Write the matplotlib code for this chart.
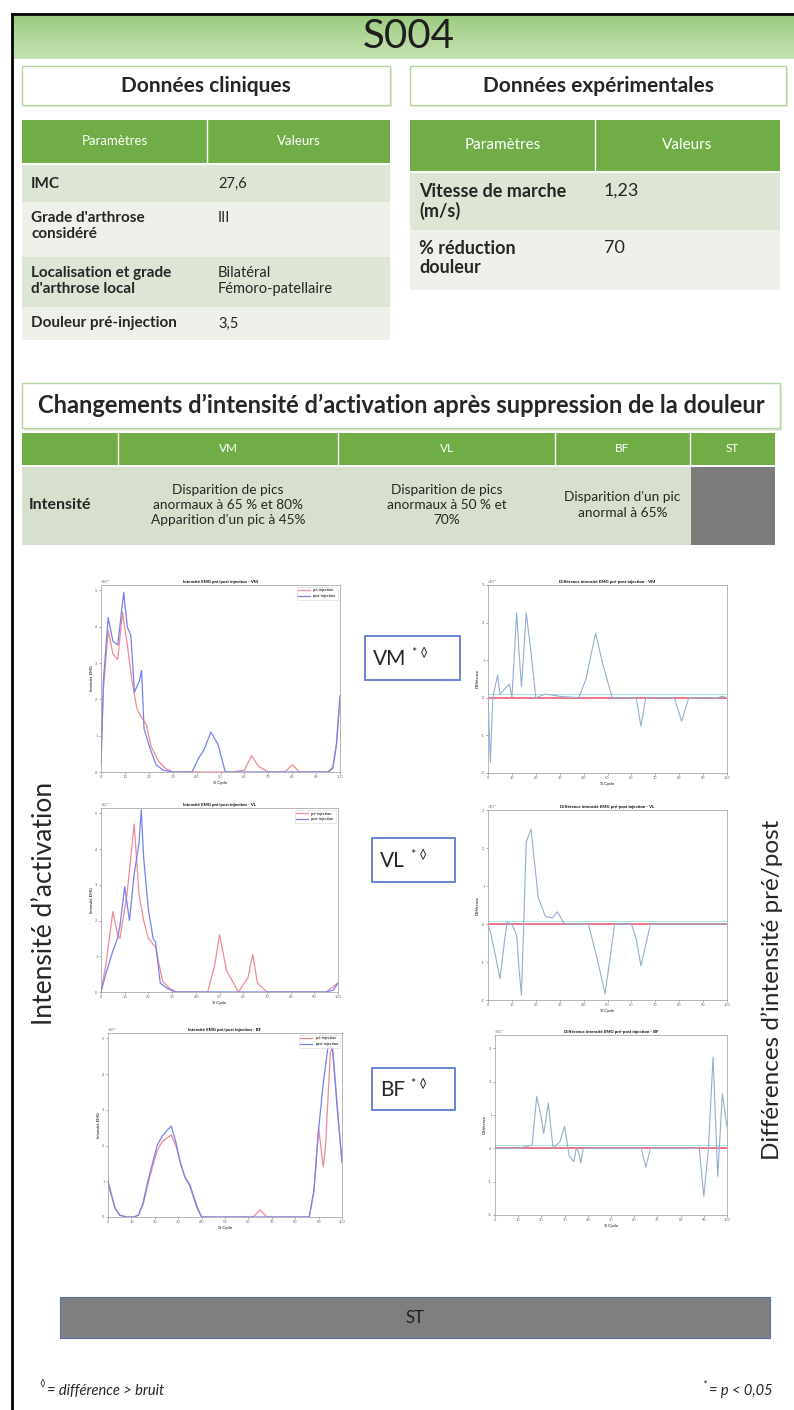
import matplotlib
matplotlib.use("Agg")
import matplotlib.pyplot as plt
from matplotlib.patches import Rectangle
from matplotlib.colors import LinearSegmentedColormap
import numpy as np

plt.rcParams['font.family'] = ['Lato', 'DejaVu Sans']

# ---------------- data ----------------
subject = "S004"
section_titles = ["Données cliniques", "Données expérimentales"]
table_headers = ["Paramètres", "Valeurs"]
clin_params = ["IMC", "Grade d'arthrose\nconsidéré", "Localisation et grade\nd'arthrose local", "Douleur pré-injection"]
clin_values = ["27,6", "III", "Bilatéral\nFémoro-patellaire", "3,5"]
exp_params = ["Vitesse de marche\n(m/s)", "% réduction\ndouleur"]
exp_values = ["1,23", "70"]
change_title = "Changements d’intensité d’activation après suppression de la douleur"
muscles = ["VM", "VL", "BF", "ST"]
row_label = "Intensité"
intensity_notes = ["Disparition de pics\nanormaux à 65 % et 80%\nApparition d'un pic à 45%",
                   "Disparition de pics\nanormaux à 50 % et\n70%",
                   "Disparition d'un pic\nanormal à 65%",
                   ""]
cycle_ticks = [0, 10, 20, 30, 40, 50, 60, 70, 80, 90, 100]
legend_labels = ["pré-injection", "post-injection"]
left_ylabel = "Intensité d’activation"
right_ylabel = "Différences d’intensité pré/post"
st_label = "ST"
foot_left = "= différence > bruit"
foot_right = "= p < 0,05"

# VM intensity (pre = red, post = blue)
vm_pre_x = [0, 1, 3, 5, 7, 9, 11, 13, 15, 17, 19, 21, 24, 27, 30, 40, 55, 60, 63, 66, 70, 77, 80, 83, 90, 95, 97, 98.5, 100]
vm_pre_y = [0.05, 0.45, 0.78, 0.65, 0.62, 0.88, 0.70, 0.50, 0.35, 0.30, 0.26, 0.14, 0.06, 0.02, 0.0, 0.0, 0.0, 0.01, 0.09, 0.03, 0.0, 0.0, 0.04, 0.0, 0.0, 0.0, 0.03, 0.15, 0.40]
vm_post_x = [0, 1, 3, 5, 7, 9.5, 11, 12.5, 14, 16, 17, 18, 20, 23, 26, 30, 38, 41, 43, 46, 49, 52, 56, 66, 80, 95, 97, 98.5, 100]
vm_post_y = [0.05, 0.50, 0.85, 0.72, 0.70, 0.99, 0.80, 0.75, 0.44, 0.50, 0.56, 0.24, 0.15, 0.04, 0.01, 0.0, 0.0, 0.08, 0.12, 0.22, 0.15, 0.0, 0.0, 0.0, 0.0, 0.0, 0.02, 0.15, 0.42]

# VL intensity
vl_pre_x = [0, 2, 4, 5, 7, 8, 11, 14, 16, 18, 20, 23, 26, 29, 32, 45, 48, 50, 53, 58, 62, 64, 66, 70, 85, 95, 100]
vl_pre_y = [0.0, 0.15, 0.35, 0.45, 0.32, 0.30, 0.55, 0.94, 0.55, 0.40, 0.30, 0.25, 0.06, 0.02, 0.0, 0.0, 0.15, 0.32, 0.12, 0.0, 0.08, 0.21, 0.05, 0.0, 0.0, 0.0, 0.05]
vl_post_x = [0, 2, 5, 7, 8, 10, 12, 14, 16, 17, 18, 20, 22, 23, 25, 28, 31, 40, 60, 80, 95, 98, 100]
vl_post_y = [0.0, 0.10, 0.23, 0.30, 0.37, 0.59, 0.40, 0.66, 0.83, 1.02, 0.75, 0.46, 0.30, 0.28, 0.05, 0.02, 0.0, 0.0, 0.0, 0.0, 0.0, 0.01, 0.05]

# BF intensity
bf_pre_x = [0, 1, 3, 5, 8, 11, 13, 15, 17, 19, 21, 23, 25, 27, 29, 31, 33, 35, 38, 40, 55, 62, 65, 68, 75, 86, 88, 90, 92, 93, 95, 96, 98, 100]
bf_pre_y = [0.18, 0.14, 0.05, 0.01, 0.0, 0.0, 0.01, 0.07, 0.18, 0.28, 0.37, 0.42, 0.44, 0.46, 0.40, 0.30, 0.22, 0.17, 0.05, 0.0, 0.0, 0.0, 0.04, 0.0, 0.0, 0.0, 0.14, 0.50, 0.28, 0.40, 0.92, 0.95, 0.62, 0.30]
bf_post_x = [0, 1, 3, 5, 8, 11, 13, 15, 17, 19, 21, 23, 25, 27, 29, 31, 33, 35, 38, 40, 50, 60, 70, 80, 86, 88, 90, 92, 94, 95, 96, 98, 100]
bf_post_y = [0.20, 0.15, 0.05, 0.01, 0.0, 0.0, 0.01, 0.08, 0.20, 0.30, 0.40, 0.45, 0.48, 0.51, 0.42, 0.30, 0.22, 0.18, 0.06, 0.0, 0.0, 0.0, 0.0, 0.0, 0.0, 0.15, 0.49, 0.75, 0.95, 0.96, 0.93, 0.60, 0.31]

# Pre/post differences
vm_diff_x = [0, 1, 2, 4, 5, 7, 9, 10, 12, 13, 14, 16, 18, 20, 24, 30, 38, 41, 45, 48, 52, 56, 62, 64, 66, 78, 81, 84, 90, 96, 98, 100]
vm_diff_y = [0, -0.86, 0.0, 0.30, 0.05, 0.12, 0.18, 0.0, 1.13, 0.6, 0.15, 1.13, 0.6, 0.0, 0.05, 0.02, 0.0, 0.25, 0.86, 0.45, 0.0, 0.0, 0.0, -0.38, 0.0, 0.0, -0.31, 0.0, 0.0, 0.0, 0.02, 0.0]
vl_diff_x = [0, 1, 3, 5, 7, 8, 10, 12, 13, 14, 16, 18, 21, 24, 27, 29, 32, 42, 46, 49, 53, 60, 62, 64, 68, 80, 100]
vl_diff_y = [0, -0.1, -0.4, -0.72, -0.2, 0.02, 0.0, -0.15, -0.6, -0.94, 1.08, 1.25, 0.35, 0.10, 0.08, 0.16, 0.0, 0.0, -0.5, -0.92, 0.0, 0.0, -0.2, -0.55, 0.0, 0.0, 0.0]
bf_diff_x = [0, 10, 16, 18, 20, 21, 23, 25, 28, 30, 32, 34, 35, 36, 37, 38, 50, 63, 65, 67, 86, 88, 90, 92, 94, 96, 98, 100]
bf_diff_y = [0, 0, 0.05, 0.78, 0.45, 0.22, 0.68, 0.0, 0.1, 0.33, -0.12, -0.2, 0.0, -0.05, -0.22, 0.0, 0.0, 0.0, -0.28, 0.0, 0.0, 0.02, -0.72, 0.0, 1.37, -0.42, 0.82, 0.32]
noise_levels = [0.05, 0.04, 0.05]

# ---------------- layout helpers ----------------
W, H = 794, 1410
fig = plt.figure(figsize=(W / 100, H / 100), dpi=100)
bg = fig.add_axes([0, 0, 1, 1])
bg.set_xlim(0, W)
bg.set_ylim(H, 0)
bg.axis('off')
renderer = fig.canvas.get_renderer()

GREEN_H = '#70ad47'
ROW_D = '#dde5d5'
ROW_L = '#eef1ea'
TXT = '#262626'


def px_axes(x0, y0, x1, y1):
    return fig.add_axes([x0 / W, 1 - y1 / H, (x1 - x0) / W, (y1 - y0) / H])


def rect(x0, y0, x1, y1, fc, ec='none', lw=0, z=1):
    bg.add_patch(Rectangle((x0, y0), x1 - x0, y1 - y0, facecolor=fc, edgecolor=ec, linewidth=lw, zorder=z))


def text_width(t):
    return t.get_window_extent(renderer=renderer).width


# frame
bg.plot([12, 12], [14, H], color='black', lw=2, zorder=5)
bg.plot([12, W], [14, 14], color='black', lw=2, zorder=5)

# title band with vertical gradient
grad = np.linspace(0, 1, 50).reshape(-1, 1)
cm = LinearSegmentedColormap.from_list('g', ['#9ccb80', '#b3d89b', '#c6e2b3'])
bg.imshow(grad, cmap=cm, extent=(14, W, 59, 16), aspect='auto', zorder=1)
bg.text(409, 37, subject, fontsize=29, ha='center', va='center', color='#1e1e1e', zorder=3)

# section title boxes
for (x0, x1), t in zip([(22, 390), (410, 786)], section_titles):
    rect(x0 + 2, 68, x1 + 2, 107, '#e6ecdf', z=1)
    rect(x0, 66, x1, 105, 'white', ec='#b5d69f', lw=1.0, z=2)
    bg.text((x0 + x1) / 2, 86, t, fontsize=15, fontweight='bold', ha='center', va='center', color=TXT, zorder=3)

# left clinical table
L0, LS, L1 = 22, 207, 390
rect(L0, 120, L1, 163, GREEN_H, z=2)
bg.plot([LS, LS], [120, 163], color='white', lw=1, zorder=3)
bg.text((L0 + LS) / 2, 141, table_headers[0], fontsize=9.5, color='white', ha='center', va='center', zorder=4)
bg.text((LS + L1) / 2, 141, table_headers[1], fontsize=9.5, color='white', ha='center', va='center', zorder=4)
left_rows = [(165, 202), (202, 257), (257, 307), (307, 340)]
for i, ((y0, y1), p, v) in enumerate(zip(left_rows, clin_params, clin_values)):
    rect(L0, y0, L1, y1, ROW_D if i % 2 == 0 else ROW_L, z=2)
    if i in (0, 3):
        yy, va = (y0 + y1) / 2, 'center'
    else:
        yy, va = y0 + 9, 'top'
    bg.text(31, yy, p, fontsize=11, fontweight='bold', color=TXT, ha='left', va=va, linespacing=1.15, zorder=4)
    bg.text(218, yy, v, fontsize=10.5, color=TXT, ha='left', va=va, linespacing=1.15, zorder=4)

# right experimental table
R0, RS, R1 = 410, 595, 780
rect(R0, 120, R1, 171, GREEN_H, z=2)
bg.plot([RS, RS], [120, 171], color='white', lw=1, zorder=3)
bg.text((R0 + RS) / 2, 145, table_headers[0], fontsize=11, color='white', ha='center', va='center', zorder=4)
bg.text((RS + R1) / 2, 145, table_headers[1], fontsize=11, color='white', ha='center', va='center', zorder=4)
right_rows = [(173, 230), (230, 290)]
for i, ((y0, y1), p, v) in enumerate(zip(right_rows, exp_params, exp_values)):
    rect(R0, y0, R1, y1, ROW_D if i % 2 == 0 else ROW_L, z=2)
    bg.text(419, y0 + 10, p, fontsize=13, fontweight='bold', color=TXT, ha='left', va='top', linespacing=1.15, zorder=4)
    bg.text(604, y0 + 10, v, fontsize=13, color=TXT, ha='left', va='top', linespacing=1.15, zorder=4)

# changes title box
rect(24, 386, 782, 431, '#e6ecdf', z=1)
rect(22, 383, 780, 428, 'white', ec='#b5d69f', lw=1.0, z=2)
t = bg.text(401, 405, change_title, fontsize=15, fontweight='bold', ha='center', va='center', color=TXT, zorder=3)
t.set_fontsize(15 * 730 / text_width(t))

# intensity table
cols = [22, 118, 338, 555, 690, 775]
rect(cols[0], 433, cols[-1], 465, GREEN_H, z=2)
rect(cols[0], 467, cols[-1], 545, '#d6e0cc', z=2)
for cx in cols[1:-1]:
    bg.plot([cx, cx], [433, 465], color='white', lw=1, zorder=3)
for j, (m, note) in enumerate(zip(muscles, intensity_notes)):
    cx = (cols[j + 1] + cols[j + 2]) / 2
    bg.text(cx, 449, m, fontsize=8.5, color='white', ha='center', va='center', zorder=4)
    if note:
        bg.text(cx, 505, note, fontsize=9.8, color=TXT, ha='center', va='center', linespacing=1.35, zorder=4)
    else:
        rect(cols[j + 1] + 1, 467, cols[j + 2], 545, '#7b7b7b', z=3)
bg.text(29, 505, row_label, fontsize=11.5, fontweight='bold', color=TXT, ha='left', va='center', zorder=4)

# ---------------- EMG plots ----------------
RED = '#f28a92'
BLUE = '#7582ee'
DIFF = '#93afd0'


def style(ax):
    ax.set_xlim(0, 100)
    ax.set_xticks(cycle_ticks)
    ax.tick_params(length=1.5, width=0.4, labelsize=2.8, colors='#666666', pad=1)
    for s in ax.spines.values():
        s.set_linewidth(0.5)
        s.set_color('#9a9a9a')


def intensity_plot(box, px, py, qx, qy, name):
    ax = px_axes(*box)
    ax.plot(px, py, color=RED, lw=0.9, label=legend_labels[0])
    ax.plot(qx, qy, color=BLUE, lw=0.9, label=legend_labels[1])
    style(ax)
    ax.set_ylim(0, 1.03)
    ax.set_yticks([0, 0.2, 0.4, 0.6, 0.8, 1.0])
    ax.set_yticklabels(['0', '1', '2', '3', '4', '5'])
    ax.set_title('Intensité EMG pré/post injection - ' + name, fontsize=3.2, fontweight='bold', pad=1.5)
    ax.set_xlabel('% Cycle', fontsize=3, labelpad=1)
    ax.set_ylabel('Intensité EMG', fontsize=3, labelpad=1)
    ax.text(0, 1.01, '×10⁻³', transform=ax.transAxes, fontsize=2.8, color='#666666')
    leg = ax.legend(loc='upper right', fontsize=2.8, frameon=True, handlelength=3, borderpad=0.4)
    leg.get_frame().set_linewidth(0.4)
    return ax


def diff_plot(box, dx, dy, lo, hi, noise, name):
    ax = px_axes(*box)
    ax.axhline(0, color='#e8506a', lw=1.1, zorder=2)
    ax.axhline(noise, color='#8fe0e0', lw=0.6, zorder=2)
    ax.plot(dx, dy, color=DIFF, lw=0.8, zorder=3)
    style(ax)
    ax.set_ylim(lo, hi)
    ax.set_yticks([-1, -0.5, 0, 0.5, 1.0, 1.5])
    ax.set_yticklabels(['-2', '-1', '0', '1', '2', '3'])
    ax.set_title('Différence intensité EMG pré-post injection - ' + name, fontsize=3.2, fontweight='bold', pad=1.5)
    ax.set_xlabel('% Cycle', fontsize=3, labelpad=1)
    ax.set_ylabel('Différence', fontsize=3, labelpad=1)
    ax.text(0, 1.01, '×10⁻³', transform=ax.transAxes, fontsize=2.8, color='#666666')
    return ax


intensity_plot((101, 585, 340, 772), vm_pre_x, vm_pre_y, vm_post_x, vm_post_y, 'VM')
intensity_plot((101, 808, 338, 992), vl_pre_x, vl_pre_y, vl_post_x, vl_post_y, 'VL')
intensity_plot((108, 1033, 342, 1217), bf_pre_x, bf_pre_y, bf_post_x, bf_post_y, 'BF')
diff_plot((488, 585, 727, 773), vm_diff_x, vm_diff_y, -1.0, 1.5, noise_levels[0], 'VM')
diff_plot((488, 810, 727, 1000), vl_diff_x, vl_diff_y, -1.0, 1.33, noise_levels[1], 'VL')
diff_plot((495, 1035, 727, 1215), bf_diff_x, bf_diff_y, -1.0, 1.7, noise_levels[2], 'BF')

# muscle label boxes
boxes = [(365, 636, 460, 680), (372, 838, 455, 882), (372, 1068, 455, 1110)]
for (x0, y0, x1, y1), m in zip(boxes, muscles[:3]):
    rect(x0, y0, x1, y1, 'white', ec='#5b7bd5', lw=1.3, z=3)
    cy = (y0 + y1) / 2
    tm = bg.text(x0 + 8, cy + 1, m, fontsize=15, color=TXT, ha='left', va='center', zorder=4)
    ext = tm.get_window_extent(renderer=renderer)
    bg.text(ext.x1 + 6, cy - 6, '* ◊', fontsize=9, color=TXT, ha='left', va='center', zorder=4)

# side labels
bg.text(45, 903, left_ylabel, fontsize=19, rotation=90, ha='center', va='center', color=TXT)
bg.text(772, 990, right_ylabel, fontsize=17.5, rotation=90, ha='center', va='center', color=TXT)

# ST bar
rect(60, 1297, 770, 1338, '#7f7f7f', ec='#5a6fb0', lw=0.8, z=2)
bg.text(415, 1318, st_label, fontsize=12, color='#1e1e1e', ha='center', va='center', zorder=3)

# footer
bg.text(39, 1384, '◊', fontsize=7, color=TXT, ha='left', va='center')
bg.text(47, 1391, foot_left, fontsize=10.5, style='italic', color=TXT, ha='left', va='center')
tr = bg.text(773, 1391, foot_right, fontsize=10.5, style='italic', color=TXT, ha='right', va='center')
left_edge = tr.get_window_extent(renderer=renderer).x0
bg.text(left_edge - 3, 1385, '*', fontsize=8, style='italic', color=TXT, ha='right', va='center')

fig.savefig('out.png', dpi=100)
